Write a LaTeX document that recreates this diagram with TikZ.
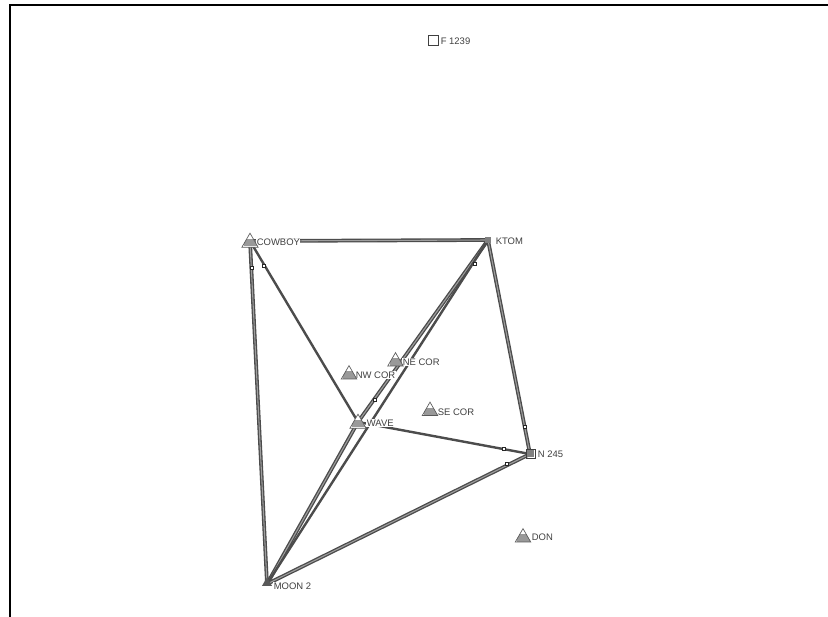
\documentclass[tikz,border=0pt]{standalone}
\usepackage{fontspec}
\setmainfont{Liberation Sans}
\usetikzlibrary{shapes.geometric,patterns}
\definecolor{lnk}{gray}{0.30}
\definecolor{lnkin}{gray}{0.62}
\tikzset{
  x=0.75pt,y=-0.75pt,
  station/.style={draw=black!65,line width=0.5pt,isosceles triangle,isosceles triangle apex angle=60,shape border rotate=90,minimum size=10pt,inner sep=0pt,fill=white,
    path picture={\fill[black!40] ([xshift=1.5pt]path picture bounding box.south west) rectangle ([yshift=5.6pt]path picture bounding box.south east);}},
  solidstation/.style={station,minimum size=10.5pt,
    path picture={\fill[black!40] ([xshift=1.5pt,yshift=0.6pt]path picture bounding box.south west) rectangle ([yshift=6.4pt,xshift=-0.5pt]path picture bounding box.south east);}},
  moonpt/.style={isosceles triangle,isosceles triangle apex angle=60,shape border rotate=90,minimum size=6.5pt,inner sep=0pt,fill=black!65},
  squarept/.style={draw=black!75,line width=0.55pt,rectangle,minimum size=7pt,inner sep=0pt},
  dotpt/.style={rectangle,fill=black!50,minimum size=4pt,inner sep=0pt},
  hatchpt/.style={rectangle,fill=black!50,minimum size=5pt,inner sep=0pt},
  lab/.style={anchor=west,font=\fontsize{7.1pt}{8pt}\selectfont,text=black!75,fill=white,inner sep=0.4pt},
  tick/.style={draw=black!85,fill=white,line width=0.4pt,rectangle,minimum size=2.2pt,inner sep=0pt},
}
\newcommand{\lnkthick}[2]{%
  \draw[lnk,line width=2.8pt] (#1) -- (#2);
  \draw[lnkin,line width=0.8pt] (#1) -- (#2);}
\newcommand{\lnkthin}[2]{%
  \draw[lnk,line width=1.8pt] (#1) -- (#2);}
\begin{document}
\begin{tikzpicture}
\useasboundingbox (0,0) rectangle (828,617);
\fill[white] (0,0) rectangle (828,617);
\draw[black,line width=1.5pt] (9.5,617) -- (9.5,5.5) -- (828,5.5);
% stations
\coordinate (cowboy) at (250,241);
\coordinate (ktom) at (488,240);
\coordinate (wave) at (358,422);
\coordinate (moon) at (267,584);
\coordinate (n245) at (530,454);
% links
\lnkthick{cowboy}{ktom}
\lnkthick{cowboy}{moon}
\lnkthin{cowboy}{wave}
\lnkthick{moon}{wave}
\lnkthick{wave}{ktom}
\lnkthin{moon}{ktom}
\lnkthick{ktom}{n245}
\lnkthin{wave}{n245}
\lnkthick{moon}{n245}
% markers
\node[tick] (t1) at (252,268) {};
\node[tick] (t2) at (264,266) {};
\node[tick] (t3) at (375,400) {};
\node[tick] (t4) at (475,264) {};
\node[tick] (t5) at (525,427) {};
\node[tick] (t6) at (504,449) {};
\node[tick] (t7) at (507,464) {};
% labels (mask the lines behind them)
\node[lab] (lf) at (440,41) {F 1239};
\node[lab] (lc) at (256,242.5) {COWBOY};
\node[lab] (lk) at (495,241) {KTOM};
\node[lab] (lne) at (402,362) {NE COR};
\node[lab] (lnw) at (355,375) {NW COR};
\node[lab] (lse) at (437,412) {SE COR};
\node[lab] (lw) at (366,423) {WAVE};
\node[lab] (ln) at (537,454) {N 245};
\node[lab] (ld) at (531,537) {DON};
\node[lab] (lm) at (273,586) {MOON 2};
% symbols
\node[squarept] (f) at (433.5,40.5) {};
\node[solidstation] (scow) at (250,242.5) {};
\node[dotpt] (sk) at (488,240) {};
\node[station] (sne) at (395.5,361.5) {};
\node[station] (snw) at (349,374.5) {};
\node[station] (sse) at (430,411) {};
\node[solidstation] (sw) at (358,423.5) {};
\node[squarept] (sn) at (531,454) {};
\node[hatchpt] (sn2) at (530.5,453.5) {};
\node[station] (sd) at (523,537.5) {};
\node[moonpt] (sm) at (267,583) {};
\end{tikzpicture}
\end{document}
